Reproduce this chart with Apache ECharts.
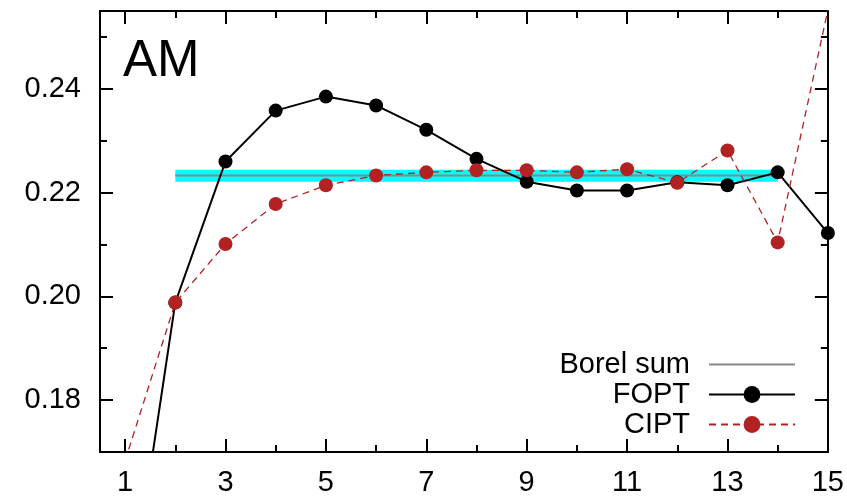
<!DOCTYPE html>
<html>
<head>
<meta charset="utf-8">
<script src="https://cdn.jsdelivr.net/npm/echarts@6/dist/echarts.min.js"></script>
<style>
html,body{margin:0;padding:0;background:#fff;}
#c{width:847px;height:497px;}
</style>
</head>
<body>
<div id="c"></div>
<script>
// ---- data ----
const orders = [1, 2, 3, 4, 5, 6, 7, 8, 9, 10, 11, 12, 13, 14, 15];
const fopt = [0.1342, 0.1988, 0.2260, 0.2358, 0.2385, 0.2368, 0.2321, 0.2265, 0.2221, 0.2204, 0.2204, 0.2220, 0.2214, 0.2239, 0.2122];
const cipt = [0.1683, 0.1988, 0.2101, 0.2178, 0.2214, 0.2233, 0.2239, 0.2243, 0.2243, 0.2239, 0.2245, 0.2219, 0.2281, 0.2104, 0.2552];
const borelX = [2, 14];
const borelValue = 0.22328;
const borelBand = [0.2221, 0.2244];
const xMajorTicks = [1, 3, 5, 7, 9, 11, 13, 15];
const xMinorTicks = [2, 4, 6, 8, 10, 12, 14];
const yMajorTicks = [0.18, 0.20, 0.22, 0.24];
const yMinorTicks = [0.19, 0.21, 0.23, 0.25];
const chartLabel = 'AM';
const seriesNames = ['Borel sum', 'FOPT', 'CIPT'];

const FONT = 'Liberation Sans, Arial, Helvetica, sans-serif';
const X_MIN = 0.5, X_MAX = 15, Y_MIN = 0.17, Y_MAX = 0.255;

function xAxisDef(pos, ticks, len, showLine, showLabel) {
  return {
    type: 'value', position: pos, min: X_MIN, max: X_MAX,
    axisLine: { show: showLine, onZero: false, lineStyle: { color: '#000', width: 2 } },
    axisTick: { show: true, inside: true, length: len, customValues: ticks, lineStyle: { color: '#000', width: 2 } },
    axisLabel: showLabel ? { show: true, customValues: ticks, color: '#000', fontSize: 29, fontFamily: FONT, margin: 16 } : { show: false },
    splitLine: { show: false }
  };
}
function yAxisDef(pos, ticks, len, showLine, showLabel) {
  return {
    type: 'value', position: pos, min: Y_MIN, max: Y_MAX,
    axisLine: { show: showLine, onZero: false, lineStyle: { color: '#000', width: 2 } },
    axisTick: { show: true, inside: true, length: len, customValues: ticks, lineStyle: { color: '#000', width: 2 } },
    axisLabel: showLabel ? { show: true, customValues: ticks, color: '#000', fontSize: 29, fontFamily: FONT, margin: 19,
      formatter: v => v.toFixed(2) } : { show: false },
    splitLine: { show: false }
  };
}

const chart = echarts.init(document.getElementById('c'), null, { renderer: 'canvas' });
chart.setOption({
  animation: false,
  backgroundColor: '#fff',
  title: { text: chartLabel, left: 118, top: 31, textStyle: { fontSize: 51, fontWeight: 'normal', color: '#000', fontFamily: FONT } },
  grid: { left: 100, right: 17, top: 11, bottom: 45, containLabel: false },
  legend: {
    orient: 'vertical', right: 46, top: 345, align: 'right', itemGap: 1,
    itemWidth: 86, itemHeight: 21,
    data: [
      { name: seriesNames[0], itemStyle: { opacity: 0 } },
      { name: seriesNames[1] },
      { name: seriesNames[2] }
    ],
    textStyle: { fontSize: 29, fontFamily: FONT, color: '#000', width: 150, align: 'right', padding: [0, 14, 0, 0] }
  },
  xAxis: [
    xAxisDef('bottom', xMajorTicks, 13, true, true),
    xAxisDef('bottom', xMinorTicks, 7, false, false),
    xAxisDef('top', xMajorTicks, 13, true, false),
    xAxisDef('top', xMinorTicks, 7, false, false)
  ],
  yAxis: [
    yAxisDef('left', yMajorTicks, 13, true, true),
    yAxisDef('left', yMinorTicks, 7, false, false),
    yAxisDef('right', yMajorTicks, 13, true, false),
    yAxisDef('right', yMinorTicks, 7, false, false)
  ],
  series: [
    {
      name: seriesNames[0], type: 'line', symbol: 'none', z: 2,
      data: borelX.map(x => [x, borelValue]),
      lineStyle: { color: '#888', width: 2 },
      itemStyle: { color: '#888' },
      markArea: {
        silent: true, z: 1,
        itemStyle: { color: '#00ffff', opacity: 1 },
        data: [[{ coord: [borelX[0], borelBand[0]] }, { coord: [borelX[1], borelBand[1]] }]]
      }
    },
    {
      name: seriesNames[1], type: 'line', z: 3, clip: true,
      data: orders.map((x, i) => [x, fopt[i]]),
      symbol: 'circle', symbolSize: 14, showAllSymbol: true,
      lineStyle: { color: '#000', width: 2 },
      itemStyle: { color: '#000' }
    },
    {
      name: seriesNames[2], type: 'line', z: 4, clip: true,
      data: orders.map((x, i) => [x, cipt[i]]),
      symbol: 'circle', symbolSize: 14, showAllSymbol: true,
      lineStyle: { color: '#b22222', width: 1.3, type: [7, 5] },
      itemStyle: { color: '#b22222' }
    }
  ]
});
</script>
</body>
</html>
